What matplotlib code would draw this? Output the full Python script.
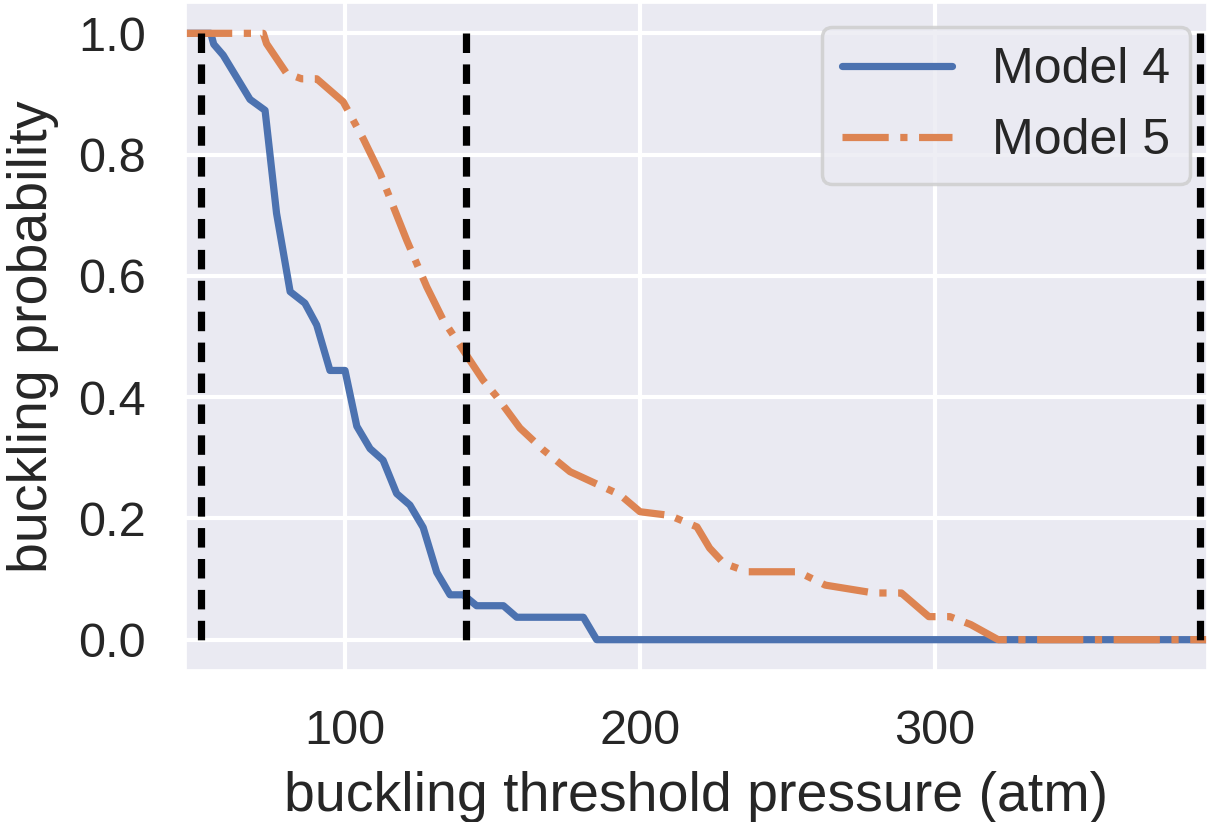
import matplotlib
matplotlib.use("Agg")
import matplotlib.pyplot as plt
import seaborn as sns

# buckling threshold pressure (atm) vs probability
x_model4 = [46.1, 54.5, 55.5, 58.7, 67.8, 72.9, 76.8, 81.4, 86.4, 90.4, 94.9, 100.0,
            104.0, 108.5, 112.9, 117.5, 122.0, 126.5, 131.1, 135.6, 140.1, 144.6,
            153.7, 158.2, 180.8, 185.3, 392.2]
y_model4 = [1.0, 1.0, 0.982, 0.964, 0.891, 0.873, 0.703, 0.574, 0.555, 0.519, 0.444, 0.444,
            0.352, 0.315, 0.296, 0.241, 0.222, 0.185, 0.111, 0.074, 0.074, 0.056,
            0.056, 0.037, 0.037, 0.0, 0.0]

x_model5 = [46.1, 72.3, 73.4, 80.2, 85.3, 90.4, 99.4, 106.2, 111.9, 120.9, 127.7, 133.3,
            140.0, 146.8, 151.4, 159.3, 167.2, 176.3, 193.2, 200.0, 210.0, 219.3,
            223.6, 228.4, 236.4, 253.6, 262.8, 279.3, 288.6, 297.9, 305.0, 312.1,
            321.4, 392.2]
y_model5 = [1.0, 1.0, 0.983, 0.934, 0.925, 0.925, 0.887, 0.826, 0.769, 0.659, 0.582, 0.527,
            0.478, 0.428, 0.401, 0.349, 0.313, 0.277, 0.239, 0.211, 0.205, 0.186,
            0.151, 0.126, 0.112, 0.112, 0.090, 0.077, 0.077, 0.038, 0.038, 0.025,
            0.0, 0.0]

thresholds = [51.1, 141.0, 389.8]

sns.set_theme(style="darkgrid")
plt.rcParams['font.family'] = ['Liberation Sans', 'DejaVu Sans']

fig = plt.figure(figsize=(12.07, 8.22), dpi=100)
ax = fig.add_axes([186 / 1207, 152 / 822, 1021 / 1207, 667 / 822])

ax.plot(x_model4, y_model4, color='#4C72B0', lw=5.2, label='Model 4')
ax.plot(x_model5, y_model5, color='#DD8452', lw=5.2, ls='-.', label='Model 5')
# dashed markers, drawn top-down so the pattern starts at 1.0
for t in thresholds:
    ax.plot([t, t], [1, 0], color='black', lw=5.2, ls=(0, (2.70, 1.58)))

ax.set_xlim(46.1, 392.2)
ax.set_ylim(-0.05, 1.05)
ax.set_xticks([100, 200, 300])
ax.set_yticks([0.0, 0.2, 0.4, 0.6, 0.8, 1.0])
ax.grid(color='white', lw=3.0)
ax.tick_params(axis='x', labelsize=35, pad=22, colors='.15')
ax.tick_params(axis='y', labelsize=35, pad=23, colors='.15')

ax.set_xlabel('buckling threshold pressure (atm)', fontsize=40, color='.15')
ax.set_ylabel('buckling probability', fontsize=40, color='.15')
ax.xaxis.set_label_coords(0.5, -0.152)
ax.yaxis.set_label_coords(-0.124, 0.5)

leg = ax.legend(loc='upper right', bbox_to_anchor=(0.983, 0.964), borderaxespad=0,
                fontsize=36, handlelength=2.2, framealpha=0.8, edgecolor='0.8')
leg.get_frame().set_linewidth(2.5)
for txt in leg.get_texts():
    txt.set_color('.15')

fig.savefig('out.png', dpi=100)
